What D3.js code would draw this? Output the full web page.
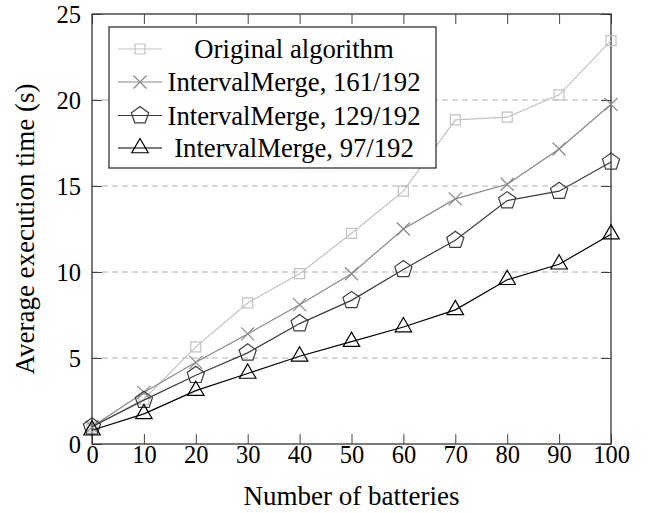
<!DOCTYPE html>
<html>
<head>
<meta charset="utf-8">
<script src="https://cdn.jsdelivr.net/npm/d3@7"></script>
</head>
<body style="margin:0">
<svg id="chart" width="652" height="513"></svg>
<script>
// Data
const batteries = [0, 10, 20, 30, 40, 50, 60, 70, 80, 90, 100];
const originalTimes = [1.0, 2.6, 5.65, 8.2, 9.9, 12.25, 14.7, 18.85, 19.0, 20.3, 23.45];
const merge161Times = [1.0, 3.0, 4.75, 6.4, 8.1, 9.9, 12.5, 14.25, 15.1, 17.15, 19.75];
const merge129Times = [1.0, 2.55, 4.0, 5.3, 7.0, 8.35, 10.15, 11.85, 14.15, 14.7, 16.4];
const merge97Times = [0.8, 1.75, 3.1, 4.1, 5.1, 5.95, 6.8, 7.8, 9.55, 10.45, 12.2];
const seriesNames = ["Original algorithm", "IntervalMerge, 161/192", "IntervalMerge, 129/192", "IntervalMerge, 97/192"];
const xTicks = [0, 10, 20, 30, 40, 50, 60, 70, 80, 90, 100];
const yTicks = [0, 5, 10, 15, 20, 25];

const series = [
	{ name: seriesNames[0], values: originalTimes, color: "#c2c2c2", mark: "square" },
	{ name: seriesNames[1], values: merge161Times, color: "#888888", mark: "cross" },
	{ name: seriesNames[2], values: merge129Times, color: "#3c3c3c", mark: "pentagon" },
	{ name: seriesNames[3], values: merge97Times, color: "#000000", mark: "triangle" }
];

const FONT = '"Liberation Serif", "Times New Roman", serif';
const svg = d3.select("#chart").style("font-family", FONT);
const margin = { top: 14, right: 41, bottom: 69, left: 92 };
const width = 652;
const height = 513;

const x = d3.scaleLinear().domain([0, 100]).range([margin.left, width - margin.right]);
const y = d3.scaleLinear().domain([0, 25]).range([height - margin.bottom, margin.top]);

// Dashed horizontal grid
svg.append("g")
	.selectAll("line")
	.data(yTicks.filter((d) => d > 0 && d < 25))
	.join("line")
	.attr("x1", x(0))
	.attr("x2", x(100))
	.attr("y1", (d) => y(d))
	.attr("y2", (d) => y(d))
	.attr("stroke", "#b0b0b0")
	.attr("stroke-width", 1)
	.attr("stroke-dasharray", "6,4");

// Axes with inward ticks on all four sides
const tickLen = 10;
const axisBottom = svg.append("g")
	.attr("transform", `translate(0,${y(0)})`)
	.call(d3.axisBottom(x).tickValues(xTicks).tickSize(-tickLen).tickPadding(14));
const axisTop = svg.append("g")
	.attr("transform", `translate(0,${y(25)})`)
	.call(d3.axisTop(x).tickValues(xTicks).tickSize(-tickLen).tickFormat(""));
const axisLeft = svg.append("g")
	.attr("transform", `translate(${x(0)},0)`)
	.call(d3.axisLeft(y).tickValues(yTicks).tickSize(-tickLen).tickPadding(11));
const axisRight = svg.append("g")
	.attr("transform", `translate(${x(100)},0)`)
	.call(d3.axisRight(y).tickValues(yTicks).tickSize(-tickLen).tickFormat(""));

[axisBottom, axisTop, axisLeft, axisRight].forEach((g) => {
	g.attr("font-family", null).attr("font-size", null);
	g.select(".domain").remove();
	g.selectAll(".tick line").attr("stroke", "#444").attr("stroke-width", 1);
	g.selectAll("text")
		.style("font-family", FONT)
		.style("font-size", "24.5px")
		.attr("fill", "#000");
});
axisBottom.selectAll("text").attr("dy", "0.2em");
axisLeft.selectAll("text").attr("dy", "0.34em");

// Plot frame
svg.append("rect")
	.attr("x", x(0))
	.attr("y", y(25))
	.attr("width", x(100) - x(0))
	.attr("height", y(0) - y(25))
	.attr("fill", "none")
	.attr("stroke", "#333")
	.attr("stroke-width", 1.3);

// Marker shapes, unfilled like the pgfplots defaults
function markPath(type) {
	const p = d3.path();
	if (type === "square") {
		p.rect(-5, -5, 10, 10);
	} else if (type === "cross") {
		p.moveTo(-6.5, -6.5); p.lineTo(6.5, 6.5);
		p.moveTo(-6.5, 6.5); p.lineTo(6.5, -6.5);
	} else if (type === "pentagon") {
		const r = 9;
		for (let i = 0; i < 5; i++) {
			const a = -Math.PI / 2 + (i * 2 * Math.PI) / 5;
			if (i === 0) p.moveTo(r * Math.cos(a), r * Math.sin(a));
			else p.lineTo(r * Math.cos(a), r * Math.sin(a));
		}
		p.closePath();
	} else {
		const r = 9.5;
		for (let i = 0; i < 3; i++) {
			const a = -Math.PI / 2 + (i * 2 * Math.PI) / 3;
			if (i === 0) p.moveTo(r * Math.cos(a), r * Math.sin(a));
			else p.lineTo(r * Math.cos(a), r * Math.sin(a));
		}
		p.closePath();
	}
	return p.toString();
}

const line = d3.line()
	.x((d, i) => x(batteries[i]))
	.y((d) => y(d));

series.forEach((s) => {
	const g = svg.append("g");
	g.append("path")
		.datum(s.values)
		.attr("fill", "none")
		.attr("stroke", s.color)
		.attr("stroke-width", 1.2)
		.attr("d", line);
	g.selectAll("path.mark")
		.data(s.values)
		.join("path")
		.attr("class", "mark")
		.attr("transform", (d, i) => `translate(${x(batteries[i])},${y(d)})`)
		.attr("d", markPath(s.mark))
		.attr("fill", "none")
		.attr("stroke", s.color)
		.attr("stroke-width", 1.2);
});

// Legend
const legend = svg.append("g");
legend.append("rect")
	.attr("x", 109)
	.attr("y", 27)
	.attr("width", 327)
	.attr("height", 141)
	.attr("fill", "#fff")
	.attr("stroke", "#222")
	.attr("stroke-width", 1.2);

const rowY = [49, 82, 115.5, 148];
series.forEach((s, i) => {
	const row = legend.append("g").attr("transform", `translate(0,${rowY[i]})`);
	row.append("line")
		.attr("x1", 118).attr("x2", 162)
		.attr("stroke", s.color).attr("stroke-width", 1.2);
	row.append("path")
		.attr("transform", "translate(140,0)")
		.attr("d", markPath(s.mark))
		.attr("fill", "none")
		.attr("stroke", s.color)
		.attr("stroke-width", 1.2);
	row.append("text")
		.attr("x", 294)
		.attr("y", 9)
		.attr("text-anchor", "middle")
		.style("font-family", FONT)
		.style("font-size", "26.7px")
		.attr("fill", "#000")
		.text(s.name);
});

// Axis labels
svg.append("text")
	.attr("x", (x(0) + x(100)) / 2)
	.attr("y", 505)
	.attr("text-anchor", "middle")
	.style("font-family", FONT)
	.style("font-size", "27px")
	.text("Number of batteries");

svg.append("text")
	.attr("transform", `translate(34,${(y(0) + y(25)) / 2}) rotate(-90)`)
	.attr("text-anchor", "middle")
	.style("font-family", FONT)
	.style("font-size", "27px")
	.text("Average execution time (s)");
</script>
</body>
</html>
